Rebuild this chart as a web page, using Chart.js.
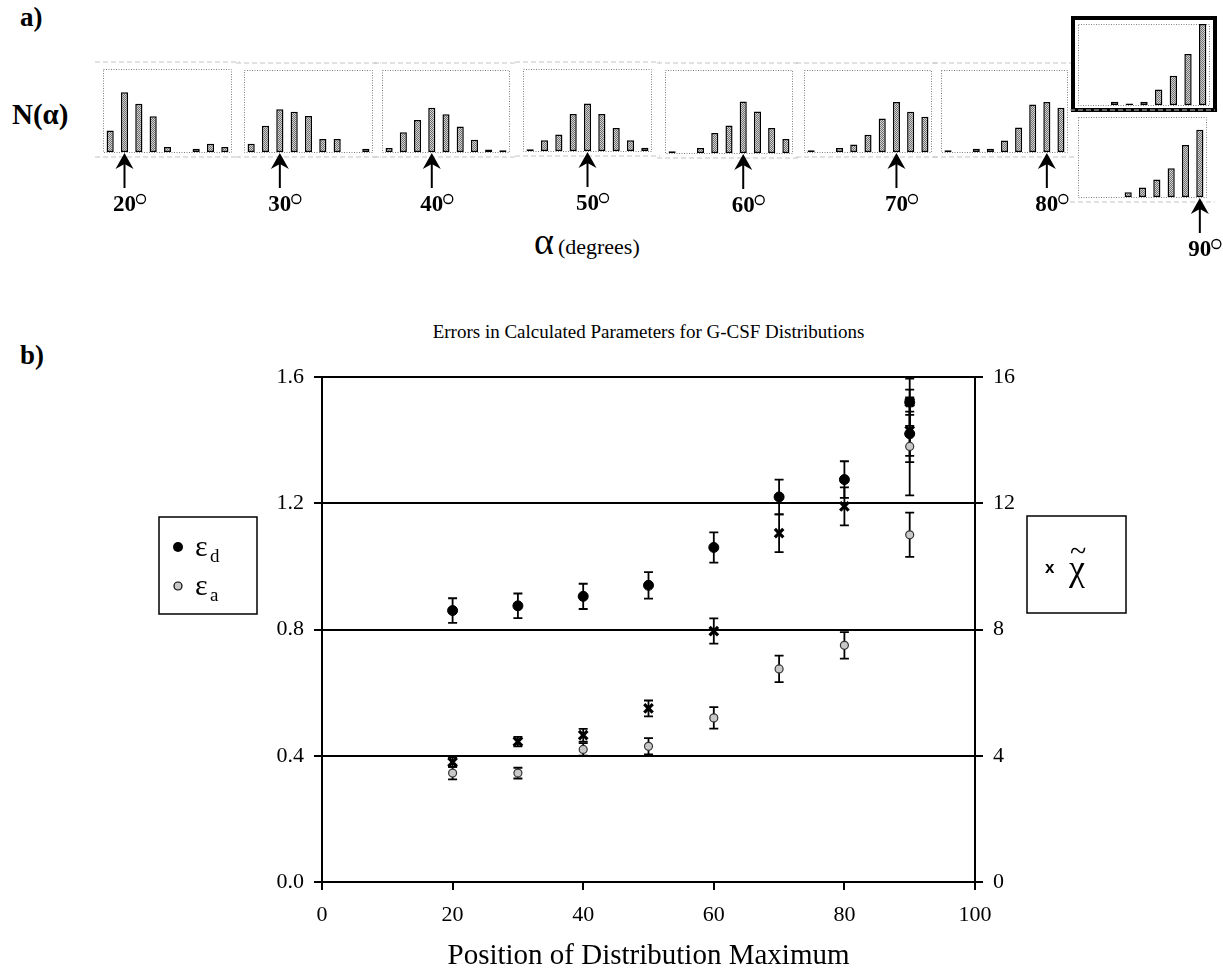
<!DOCTYPE html>
<html>
<head>
<meta charset="utf-8">
<script src="https://cdn.jsdelivr.net/npm/chart.js@4.4.1/dist/chart.umd.min.js"></script>
<style>
  html, body { margin: 0; padding: 0; background: #fff; }
  body { width: 1223px; height: 974px; position: relative; overflow: hidden; font-family: 'Liberation Serif', serif; }
  canvas { position: absolute; }
  .lbl { position: absolute; color: #000; white-space: nowrap; }
</style>
</head>
<body>
<div class="lbl" style="left:20px;top:2px;font-size:27px;font-weight:bold;">a)</div>
<div class="lbl" style="left:12px;top:98px;font-size:29px;font-weight:bold;">N(α)</div>
<div class="lbl" style="left:534px;top:219px;"><span style="font-size:38px">α</span>&nbsp;<span style="font-size:22px">(degrees)</span></div>
<div class="lbl" style="left:20px;top:340px;font-size:27px;font-weight:bold;">b)</div>
<div class="lbl" style="left:322px;width:653px;top:321px;text-align:center;font-size:19px;">Errors in Calculated Parameters for G-CSF Distributions</div>
<canvas id="mainChart" width="1223" height="674" style="left:0;top:300px"></canvas>

<script>
const FONT = "'Liberation Serif', serif";

// a) angle distributions, bins of 10 degrees, heights in % of panel height
const binLabels = ['10', '20', '30', '40', '50', '60', '70', '80', '90'];
const dist20 = [26, 72, 58, 43, 6, 0, 4, 10, 6];
const dist30 = [10, 32, 52, 49, 44, 16, 16, 0, 4];
const dist40 = [5, 24, 39, 54, 46, 31, 15, 3, 2];
const dist50 = [2, 13, 20, 45, 58, 45, 28, 13, 4];
const dist60 = [2, 0, 6, 24, 33, 62, 50, 30, 17];
const dist70 = [2, 0, 5, 9, 21, 41, 61, 49, 43];
const dist80 = [2, 0, 4, 4, 14, 30, 58, 61, 54];
const dist90a = [0, 0, 4, 2, 4, 19, 36, 63, 100];
const dist90b = [0, 0, 0, 6, 12, 22, 36, 65, 84];
const peakAngles = ['20', '30', '40', '50', '60', '70', '80', null, '90'];

// b) errors vs position of maximum (two distributions at 90)
const positions = [20, 30, 40, 50, 60, 70, 80, 90, 90];
const epsD = [0.86, 0.875, 0.905, 0.94, 1.06, 1.22, 1.275, 1.52, 1.42];
const epsDErr = [0.039, 0.039, 0.04, 0.042, 0.048, 0.055, 0.058, 0.075, 0.07];
const epsA = [0.345, 0.345, 0.42, 0.43, 0.52, 0.675, 0.75, 1.38, 1.10];
const epsAErr = [0.02, 0.017, 0.02, 0.026, 0.034, 0.042, 0.042, 0.155, 0.07];
const chi = [3.8, 4.45, 4.65, 5.5, 7.95, 11.05, 11.9, 15.2, 14.3];
const chiErr = [0.15, 0.15, 0.2, 0.25, 0.4, 0.6, 0.6, 0.4, 1.0];

const dists = [dist20, dist30, dist40, dist50, dist60, dist70, dist80, dist90a, dist90b];
// frame boxes of the small panels (page px)
const panelBoxes = [
    { left: 103, top: 69, w: 129, h: 83 },
    { left: 244, top: 70, w: 129, h: 82 },
    { left: 382, top: 70, w: 128, h: 82 },
    { left: 523, top: 69, w: 129, h: 82 },
    { left: 665, top: 70, w: 128, h: 83 },
    { left: 804, top: 70, w: 128, h: 82 },
    { left: 941, top: 70, w: 127, h: 82 },
    { left: 1078, top: 24, w: 132, h: 81 },
    { left: 1078, top: 117, w: 129, h: 80 }
];

function hatchPattern() {
    const c = document.createElement('canvas');
    c.width = 2; c.height = 2;
    const g = c.getContext('2d');
    g.fillStyle = '#d4d4d4'; g.fillRect(0, 0, 2, 2);
    g.fillStyle = '#6e6e6e'; g.fillRect(0, 0, 1, 1); g.fillRect(1, 1, 1, 1);
    return g.createPattern(c, 'repeat');
}

const panelDecor = {
    id: 'panelDecor',
    beforeDraw(chart) {
        const { ctx, chartArea: a } = chart;
        const o = chart.options.plugins.panelDecor;
        ctx.save();
        // faint chart-area border lines of the scanned plots
        ctx.strokeStyle = '#c4c4c4';
        ctx.lineWidth = 1;
        ctx.setLineDash([5, 3]);
        ctx.beginPath();
        ctx.moveTo(a.left - 8, a.bottom + 5); ctx.lineTo(a.right + 8, a.bottom + 5);
        if (!o.boxed) { ctx.moveTo(a.left - 8, a.top - 7); ctx.lineTo(a.right + 8, a.top - 7); }
        ctx.stroke();
        // dotted plot frame
        ctx.strokeStyle = '#808080';
        ctx.setLineDash([1, 1.5]);
        ctx.strokeRect(a.left + 0.5, a.top + 0.5, a.right - a.left - 1, a.bottom - a.top);
        ctx.setLineDash([]);
        if (o.boxed) {
            ctx.strokeStyle = '#000';
            ctx.lineWidth = 4;
            ctx.strokeRect(a.left - 5, a.top - 6, a.right - a.left + 10, a.bottom - a.top + 11);
        }
        ctx.restore();
    },
    afterDraw(chart) {
        const o = chart.options.plugins.panelDecor;
        if (!o.peak) return;
        const { ctx, chartArea: a } = chart;
        const x = chart.scales.x.getPixelForValue(binLabels.indexOf(o.peak));
        const y0 = a.bottom + 1;
        ctx.save();
        ctx.fillStyle = '#000';
        ctx.strokeStyle = '#000';
        ctx.lineWidth = 2;
        ctx.beginPath();
        ctx.moveTo(x, y0 + 10); ctx.lineTo(x, y0 + 35);
        ctx.stroke();
        ctx.beginPath();
        ctx.moveTo(x, y0);
        ctx.lineTo(x - 9, y0 + 16);
        ctx.lineTo(x, y0 + 11);
        ctx.lineTo(x + 9, y0 + 16);
        ctx.closePath();
        ctx.fill();
        ctx.font = 'bold 23px ' + FONT;
        ctx.textAlign = 'center';
        ctx.textBaseline = 'alphabetic';
        ctx.fillText(o.peak, x, y0 + 58);
        const tw = ctx.measureText(o.peak).width;
        // raised open circle used as the degree sign
        ctx.lineWidth = 1.3;
        ctx.beginPath();
        ctx.arc(x + tw / 2 + 5, y0 + 46, 4.5, 0, Math.PI * 2);
        ctx.stroke();
        ctx.restore();
    }
};

const fill = hatchPattern();
dists.forEach((vals, i) => {
    const b = panelBoxes[i];
    const cv = document.createElement('canvas');
    cv.width = b.w + 40;
    cv.height = b.h + 85;
    cv.style.left = (b.left - 20) + 'px';
    cv.style.top = (b.top - 10) + 'px';
    document.body.appendChild(cv);
    new Chart(cv, {
        type: 'bar',
        data: {
            labels: binLabels,
            datasets: [{
                data: vals,
                backgroundColor: fill,
                borderColor: '#000',
                borderWidth: 1.5,
                borderSkipped: false,
                barPercentage: 0.5,
                categoryPercentage: 1
            }]
        },
        options: {
            responsive: false,
            animation: false,
            layout: { padding: { left: 20, right: 20, top: 10, bottom: 75 } },
            plugins: {
                legend: { display: false },
                tooltip: { enabled: false },
                panelDecor: { peak: peakAngles[i], boxed: i === 7 }
            },
            scales: {
                x: { display: false },
                y: { display: false, min: 0, max: 100 }
            }
        },
        plugins: [panelDecor]
    });
});

const errorBars = {
    id: 'errorBars',
    beforeDatasetsDraw(chart) {
        const ctx = chart.ctx;
        ctx.save();
        ctx.strokeStyle = '#000';
        ctx.lineWidth = 1.8;
        chart.data.datasets.forEach(ds => {
            const ys = chart.scales[ds.yAxisID];
            const xs = chart.scales.x;
            ds.data.forEach((p, i) => {
                const x = xs.getPixelForValue(p.x);
                const top = ys.getPixelForValue(p.y + ds.errors[i]);
                const bot = ys.getPixelForValue(p.y - ds.errors[i]);
                ctx.beginPath();
                ctx.moveTo(x, top); ctx.lineTo(x, bot);
                ctx.moveTo(x - 4.5, top); ctx.lineTo(x + 4.5, top);
                ctx.moveTo(x - 4.5, bot); ctx.lineTo(x + 4.5, bot);
                ctx.stroke();
            });
        });
        ctx.restore();
    }
};

const legendBoxes = {
    id: 'legendBoxes',
    afterDraw(chart) {
        const ctx = chart.ctx;
        ctx.save();
        ctx.strokeStyle = '#000';
        ctx.lineWidth = 1.5;
        ctx.strokeRect(159, 217, 98, 97);
        ctx.strokeRect(1027, 216, 99, 97);
        ctx.fillStyle = '#000';
        ctx.beginPath(); ctx.arc(178, 247, 5, 0, Math.PI * 2); ctx.fill();
        ctx.fillStyle = '#c8c8c8';
        ctx.lineWidth = 1.2;
        ctx.beginPath(); ctx.arc(178, 286, 4, 0, Math.PI * 2); ctx.fill(); ctx.stroke();
        ctx.fillStyle = '#000';
        ctx.textBaseline = 'alphabetic';
        ctx.font = '30px ' + FONT;
        ctx.fillText('ε', 195, 256);
        ctx.fillText('ε', 195, 295);
        ctx.font = '19px ' + FONT;
        ctx.fillText('d', 210, 262);
        ctx.fillText('a', 210, 301);
        ctx.font = 'bold 17px Arial, sans-serif';
        ctx.textBaseline = 'middle';
        ctx.fillText('x', 1045, 268);
        ctx.font = '36px ' + FONT;
        ctx.fillText('χ', 1069, 271);
        ctx.font = '30px ' + FONT;
        ctx.fillText('~', 1070, 253);
        ctx.restore();
    }
};

const tickFont = { family: FONT, size: 22 };
new Chart(document.getElementById('mainChart'), {
    type: 'scatter',
    data: {
        datasets: [
            {
                label: 'εd',
                data: positions.map((x, i) => ({ x, y: epsD[i] })),
                errors: epsDErr,
                yAxisID: 'y',
                pointStyle: 'circle',
                pointRadius: 5,
                backgroundColor: '#000',
                borderColor: '#000',
                borderWidth: 1
            },
            {
                label: 'εa',
                data: positions.map((x, i) => ({ x, y: epsA[i] })),
                errors: epsAErr,
                yAxisID: 'y',
                pointStyle: 'circle',
                pointRadius: 4,
                backgroundColor: '#c8c8c8',
                borderColor: '#333',
                borderWidth: 1.2
            },
            {
                label: 'χ',
                data: positions.map((x, i) => ({ x, y: chi[i] })),
                errors: chiErr,
                yAxisID: 'y2',
                pointStyle: 'crossRot',
                pointRadius: 6,
                borderColor: '#000',
                borderWidth: 3.2
            }
        ]
    },
    options: {
        responsive: false,
        animation: false,
        layout: { padding: { top: 77 } },
        plugins: { legend: { display: false }, tooltip: { enabled: false } },
        scales: {
            x: {
                type: 'linear', min: 0, max: 100,
                ticks: { stepSize: 20, color: '#000', font: tickFont, padding: 12 },
                grid: { drawOnChartArea: false, tickLength: 8, color: '#000', lineWidth: 2 },
                border: { color: '#000', width: 2 },
                title: { display: true, text: 'Position of Distribution Maximum', color: '#000', font: { family: FONT, size: 29 }, padding: { top: 4, bottom: 0 } },
                afterFit(s) { s.height = 92; }
            },
            y: {
                position: 'left', min: 0, max: 1.6,
                ticks: { stepSize: 0.4, color: '#000', font: tickFont, padding: 10, callback: v => v.toFixed(1) },
                grid: { tickLength: 8, color: '#000', lineWidth: 2 },
                border: { color: '#000', width: 2 },
                afterFit(s) { s.width = 322; }
            },
            y2: {
                position: 'right', min: 0, max: 16,
                ticks: { stepSize: 4, color: '#000', font: tickFont, padding: 10 },
                grid: { drawOnChartArea: false, tickLength: 8, color: '#000', lineWidth: 2 },
                border: { color: '#000', width: 2 },
                afterFit(s) { s.width = 248; }
            }
        }
    },
    plugins: [errorBars, legendBoxes]
});
</script>
</body>
</html>
